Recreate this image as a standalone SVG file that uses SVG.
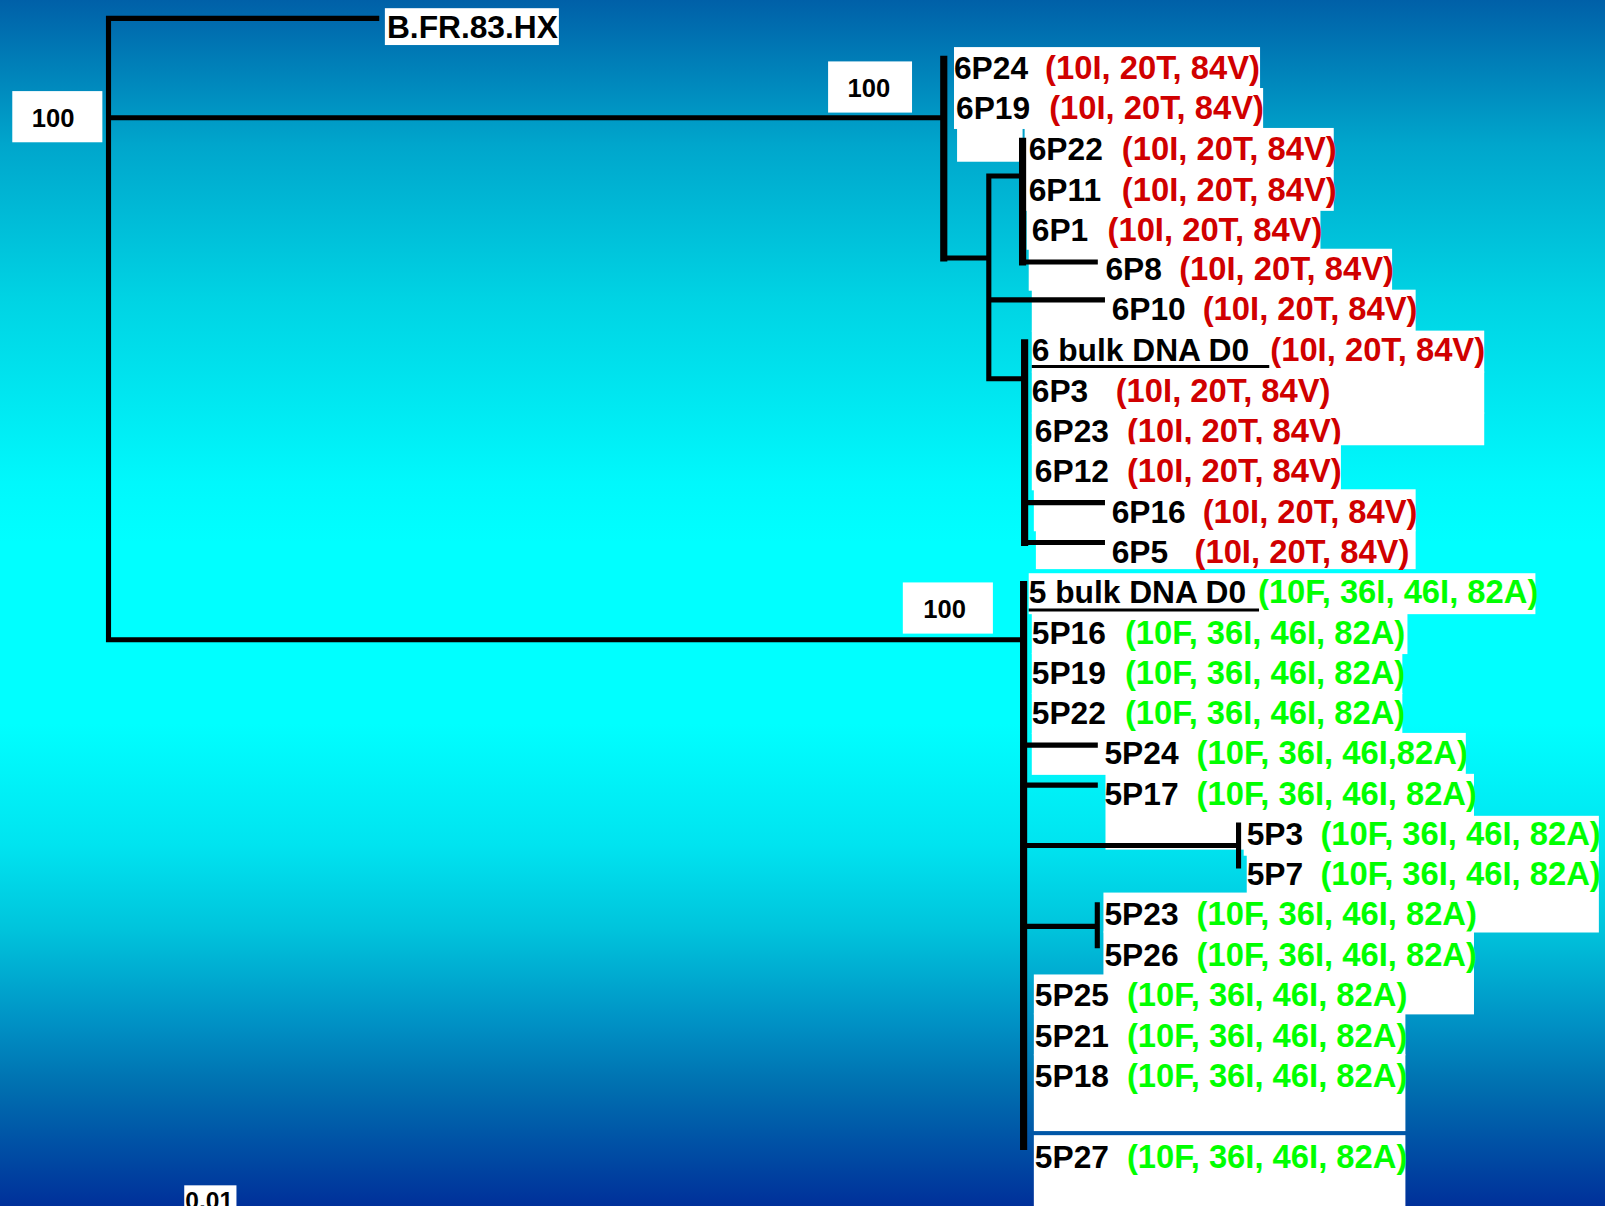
<svg xmlns="http://www.w3.org/2000/svg" width="1605" height="1206" viewBox="0 0 1605 1206">
<defs>
<linearGradient id="bg" x1="0" y1="0" x2="0" y2="1">
<stop offset="0" stop-color="#0060a8"/>
<stop offset="0.12" stop-color="#00a6cc"/>
<stop offset="0.25" stop-color="#00d4e4"/>
<stop offset="0.4" stop-color="#00f8fc"/>
<stop offset="0.45" stop-color="#00ffff"/>
<stop offset="0.6" stop-color="#00ffff"/>
<stop offset="0.7" stop-color="#00e4f0"/>
<stop offset="0.77" stop-color="#00c4dc"/>
<stop offset="0.85" stop-color="#0090c4"/>
<stop offset="0.9" stop-color="#0070b0"/>
<stop offset="1" stop-color="#00309a"/>
</linearGradient>
<style>
.bx{fill:#ffffff}
.ln{stroke:#000;stroke-width:5;fill:none;stroke-linecap:square}
.tk{stroke-width:7}
.ul{stroke:#000;stroke-width:3}
text{font-family:"Liberation Sans",Arial,sans-serif;font-weight:bold}
.nm{font-size:31px;fill:#000}
.r{fill:#d00000;font-size:32px}
.g{fill:#00ff00;font-size:32px}
.bs{font-size:25px;fill:#000}
</style>
</defs>
<rect x="0" y="0" width="1605" height="1206" fill="url(#bg)"/>
<g transform="scale(1.0236)">
<g id="support-root"><rect class="bx" x="12" y="89" width="88" height="50"/><text class="bs" x="31" y="124">100</text></g>
<g id="support-6"><rect class="bx" x="809" y="60" width="82" height="50"/><text class="bs" x="828" y="95">100</text></g>
<g id="support-5"><rect class="bx" x="882" y="569" width="88" height="50"/><text class="bs" x="902" y="604">100</text></g>
<g id="scale"><rect class="bx" x="180" y="1158" width="51" height="25"/><text class="bs" x="181" y="1181" style="font-size:24px">0.01</text></g>

<g id="n-BFR83HX"><rect class="bx" x="376" y="8" width="170" height="36"/><text class="nm" x="378" y="37">B.FR.83.HX</text></g>

<g id="n-6P24"><rect class="bx" x="932" y="46" width="299" height="41"/><text class="nm" x="932" y="77">6P24<tspan class="r" x="1021">(10I, 20T, 84V)</tspan></text></g>
<g id="n-6P19"><rect class="bx" x="932" y="86" width="302" height="40"/><rect class="bx" x="935" y="125" width="64" height="33"/><text class="nm" x="934" y="116">6P19<tspan class="r" x="1025">(10I, 20T, 84V)</tspan></text></g>
<g id="n-6P22"><rect class="bx" x="1001" y="125" width="302" height="41"/><text class="nm" x="1005" y="156">6P22<tspan class="r" x="1096">(10I, 20T, 84V)</tspan></text></g>
<g id="n-6P11"><rect class="bx" x="1001" y="165" width="302" height="41"/><text class="nm" x="1005" y="196">6P11<tspan class="r" x="1096">(10I, 20T, 84V)</tspan></text></g>
<g id="n-6P1"><rect class="bx" x="1003" y="205" width="287" height="39"/><text class="nm" x="1008" y="235">6P1<tspan class="r" x="1082">(10I, 20T, 84V)</tspan></text></g>
<g id="n-6P8"><rect class="bx" x="1005" y="243" width="355" height="41"/><text class="nm" x="1080" y="274">6P8<tspan class="r" x="1152">(10I, 20T, 84V)</tspan></text></g>
<g id="n-6P10"><rect class="bx" x="1008" y="283" width="375" height="41"/><text class="nm" x="1086" y="313">6P10<tspan class="r" x="1175">(10I, 20T, 84V)</tspan></text></g>
<g id="n-6bulk"><rect class="bx" x="1008" y="323" width="442" height="41"/><text class="nm" x="1008" y="353">6 bulk DNA D0<tspan class="r" x="1241">(10I, 20T, 84V)</tspan></text><line class="ul" x1="1008" y1="358" x2="1240" y2="358"/></g>
<g id="n-6P3"><rect class="bx" x="1008" y="363" width="442" height="41"/><text class="nm" x="1008" y="393">6P3<tspan class="r" x="1090">(10I, 20T, 84V)</tspan></text></g>
<g id="n-6P23"><rect class="bx" x="1008" y="403" width="442" height="32"/><text class="nm" x="1011" y="432">6P23<tspan class="r" x="1101">(10I, 20T, 84V)</tspan></text></g>
<g id="n-6P12"><rect class="bx" x="1008" y="434" width="302" height="45"/><text class="nm" x="1011" y="471">6P12<tspan class="r" x="1101">(10I, 20T, 84V)</tspan></text></g>
<g id="n-6P16"><rect class="bx" x="1010" y="478" width="373" height="41"/><text class="nm" x="1086" y="511">6P16<tspan class="r" x="1175">(10I, 20T, 84V)</tspan></text></g>
<g id="n-6P5"><rect class="bx" x="1012" y="518" width="371" height="38"/><text class="nm" x="1086" y="550">6P5<tspan class="r" x="1167">(10I, 20T, 84V)</tspan></text></g>

<g id="n-5bulk"><rect class="bx" x="1005" y="560" width="495" height="40"/><text class="nm" x="1005" y="589">5 bulk DNA D0<tspan class="g" x="1229">(10F, 36I, 46I, 82A)</tspan></text><line class="ul" x1="1005" y1="596" x2="1230" y2="596"/></g>
<g id="n-5P16"><rect class="bx" x="1008" y="599" width="367" height="40"/><text class="nm" x="1008" y="629">5P16<tspan class="g" x="1099">(10F, 36I, 46I, 82A)</tspan></text></g>
<g id="n-5P19"><rect class="bx" x="1008" y="638" width="362" height="40"/><text class="nm" x="1008" y="668">5P19<tspan class="g" x="1099">(10F, 36I, 46I, 82A)</tspan></text></g>
<g id="n-5P22"><rect class="bx" x="1008" y="677" width="362" height="40"/><text class="nm" x="1008" y="707">5P22<tspan class="g" x="1099">(10F, 36I, 46I, 82A)</tspan></text></g>
<g id="n-5P24"><rect class="bx" x="1008" y="716" width="424" height="41"/><text class="nm" x="1079" y="746">5P24<tspan class="g" x="1169">(10F, 36I, 46I,82A)</tspan></text></g>
<g id="n-5P17"><rect class="bx" x="1080" y="756" width="360" height="74"/><text class="nm" x="1079" y="786">5P17<tspan class="g" x="1169">(10F, 36I, 46I, 82A)</tspan></text></g>
<g id="n-5P3"><rect class="bx" x="1215" y="797" width="347" height="39"/><text class="nm" x="1218" y="826">5P3<tspan class="g" x="1290">(10F, 36I, 46I, 82A)</tspan></text></g>
<g id="n-5P7"><rect class="bx" x="1218" y="835" width="344" height="38"/><text class="nm" x="1218" y="865">5P7<tspan class="g" x="1290">(10F, 36I, 46I, 82A)</tspan></text></g>
<g id="n-5P23"><rect class="bx" x="1078" y="872" width="484" height="39"/><text class="nm" x="1079" y="904">5P23<tspan class="g" x="1169">(10F, 36I, 46I, 82A)</tspan></text></g>
<g id="n-5P26"><rect class="bx" x="1078" y="910" width="362" height="43"/><text class="nm" x="1079" y="944">5P26<tspan class="g" x="1169">(10F, 36I, 46I, 82A)</tspan></text></g>
<g id="n-5P25"><rect class="bx" x="1010" y="952" width="430" height="39"/><text class="nm" x="1011" y="983">5P25<tspan class="g" x="1101">(10F, 36I, 46I, 82A)</tspan></text></g>
<g id="n-5P21"><rect class="bx" x="1010" y="990" width="363" height="41"/><text class="nm" x="1011" y="1023">5P21<tspan class="g" x="1101">(10F, 36I, 46I, 82A)</tspan></text></g>
<g id="n-5P18"><rect class="bx" x="1010" y="1030" width="363" height="75"/><text class="nm" x="1011" y="1062">5P18<tspan class="g" x="1101">(10F, 36I, 46I, 82A)</tspan></text></g>
<g id="n-5P27"><rect class="bx" x="1010" y="1109" width="363" height="75"/><text class="nm" x="1011" y="1141">5P27<tspan class="g" x="1101">(10F, 36I, 46I, 82A)</tspan></text></g>

<g id="connectors">
<path class="ln" d="M106,18 V625 M106,18 H368 M106,115 H922 M106,625 H1000"/>
<path class="ln tk" d="M922,58 V252"/>
<path class="ln" d="M922,252 H966 M966,172 V370 M966,172 H999 M999,256 H1070 M966,293 H1077 M966,370 H1001 M1001,491 H1077 M1001,530 H1077"/>
<path class="ln tk" d="M999,138 V256 M1001,335 V530"/>
<path class="ln tk" d="M1000,571 V1120"/>
<path class="ln" d="M1000,728 H1070 M1000,767 H1070 M1000,826 H1210 M1210,806 V846 M1000,905 H1072 M1072,884 V924"/>
</g>
</g>
</svg>
